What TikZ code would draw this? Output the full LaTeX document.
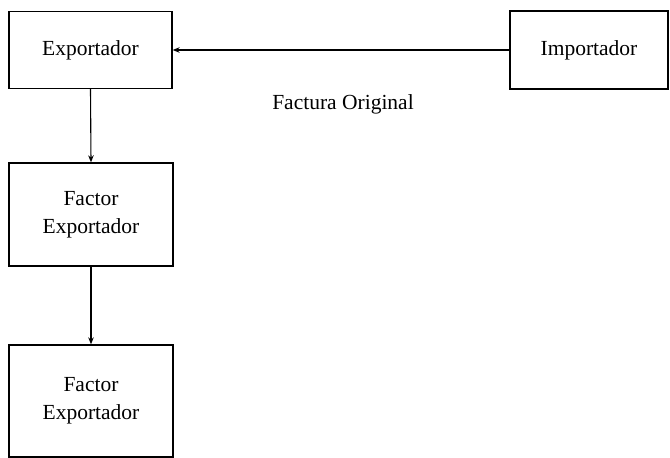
\documentclass[tikz,border=0pt]{standalone}
\usepackage{fontspec}
\setmainfont{Liberation Serif}
\usetikzlibrary{arrows.meta}
\begin{document}
\begin{tikzpicture}[x=1pt,y=-1pt,
  box/.style={draw, line width=1.3pt, inner sep=0pt, align=center, font=\fontsize{21.5}{28}\selectfont},
  conn/.style={line width=1.1pt, -{Stealth[length=7pt,width=5.5pt]}},
  lbl/.style={font=\fontsize{21.5}{28}\selectfont}]
\useasboundingbox (0,0) rectangle (670,458);
\node[box, minimum width=163pt, minimum height=77pt] (exp) at (90.5,50) {Exportador};
\node[box, minimum width=158pt, minimum height=78pt] (imp) at (589,50) {Importador};
\node[box, minimum width=164pt, minimum height=103pt] (f1) at (91,214.5) {Factor\\Exportador};
\node[box, minimum width=164pt, minimum height=112pt] (f2) at (91,401) {Factor\\Exportador};
\node[lbl] (fo) at (343,104) {Factura Original};
\draw[conn] (imp.west) -- (exp.east);
\draw[conn] (exp.south) -- (f1.north);
\draw[conn] (f1.south) -- (f2.north);
\end{tikzpicture}
\end{document}
